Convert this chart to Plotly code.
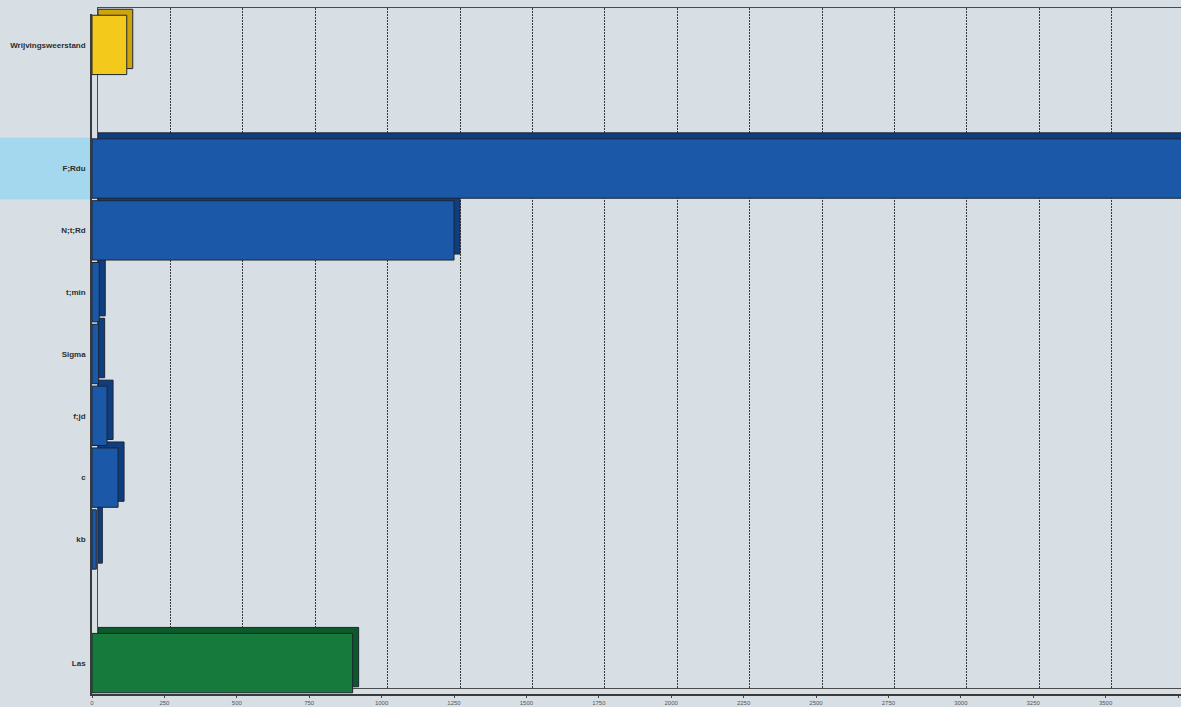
import plotly.graph_objects as go

# Rows from top to bottom; blank entries keep an empty slot in the layout
categories = ["Wrijvingsweerstand", " ", "F;Rdu", "N;t;Rd", "t;min", "Sigma",
              "f;jd", "c", "kb", "  ", "Las"]
values = [120, None, 4000, 1250, 25, 23, 52, 90, 15, None, 900]
groups = ["geel", None, "blauw", "blauw", "blauw", "blauw",
          "blauw", "blauw", "blauw", None, "groen"]
tick_values = list(range(0, 3751, 250))
tick_labels = [str(v) for v in tick_values]
highlight_row = "F;Rdu"

W, H = 1181, 707
BG = "#d7dfe5"
front_col = {"geel": "#f3c91c", "blauw": "#1b58a7", "groen": "#157a3c", None: BG}
side_col = {"geel": "#cfa409", "blauw": "#0e3e80", "groen": "#0c5a2b", None: BG}

# front face and back wall frames (pixels), back wall shifted for depth
left, right, top, bottom, depth = 92, W, 14, 694, 6
px_per_unit = 72.4 / 250


def xdom(l, r):
    return [l / W, r / W]


def ydom(t, b):
    return [(H - b) / H, (H - t) / H]


fig = go.Figure()

# depth faces: the same bars drawn on the shifted back wall
fig.add_trace(go.Bar(
    y=categories, x=values, orientation="h",
    marker=dict(color=[side_col[g] for g in groups],
                line=dict(color="#1c2533", width=1)),
    xaxis="x", yaxis="y", hoverinfo="skip", showlegend=False,
))
# front faces
fig.add_trace(go.Bar(
    y=categories, x=values, orientation="h",
    marker=dict(color=[front_col[g] for g in groups],
                line=dict(color="#1c2533", width=1)),
    xaxis="x2", yaxis="y2", showlegend=False,
))

back_l, back_t, back_b = left + depth, top - depth, bottom - depth
back_range = [0, (right - back_l) / px_per_unit]
front_range = [0, (right - left) / px_per_unit]

hi = categories.index(highlight_row)

fig.update_layout(
    width=W, height=H,
    margin=dict(l=0, r=0, t=0, b=0),
    paper_bgcolor=BG, plot_bgcolor="rgba(0,0,0,0)",
    bargap=0.04,
    xaxis=dict(domain=xdom(back_l, right), range=back_range,
               tickvals=tick_values, showticklabels=False, ticks="",
               showgrid=True, griddash="2px,1px", gridcolor="#3a3a3a",
               gridwidth=1.4,
               zeroline=False, showline=True, linecolor="#4a4a4a", linewidth=1.3,
               mirror=True, anchor="y"),
    yaxis=dict(domain=ydom(back_t, back_b), categoryorder="array",
               categoryarray=categories, autorange="reversed",
               showticklabels=False, ticks="", showgrid=False,
               showline=True, linecolor="#4a4a4a", linewidth=1.3, anchor="x"),
    xaxis2=dict(domain=xdom(left, right), range=front_range,
                tickvals=tick_values, ticktext=tick_labels,
                tickfont=dict(size=6, color="#555555", family="Liberation Sans"),
                ticks="outside", ticklen=2, tickcolor="#444444",
                ticklabelstandoff=0,
                showgrid=False, zeroline=False, showline=True,
                linecolor="#3a3a3a", linewidth=1.5, anchor="y2",
                automargin=False),
    yaxis2=dict(domain=ydom(top, bottom), categoryorder="array",
                categoryarray=categories, autorange="reversed",
                tickfont=dict(size=8, color="#2e2e2e", weight="bold",
                              family="Liberation Sans"),
                ticks="", showgrid=False, showline=True,
                linecolor="#3a3a3a", linewidth=1.5, anchor="x2",
                automargin=False, ticklabelstandoff=3),
    shapes=[dict(type="rect", xref="paper", yref="y2",
                 x0=0, x1=left / W, y0=hi - 0.5, y1=hi + 0.5,
                 fillcolor="#a4d8ef", line=dict(width=0), layer="below")],
)

fig.write_html("out.html")
